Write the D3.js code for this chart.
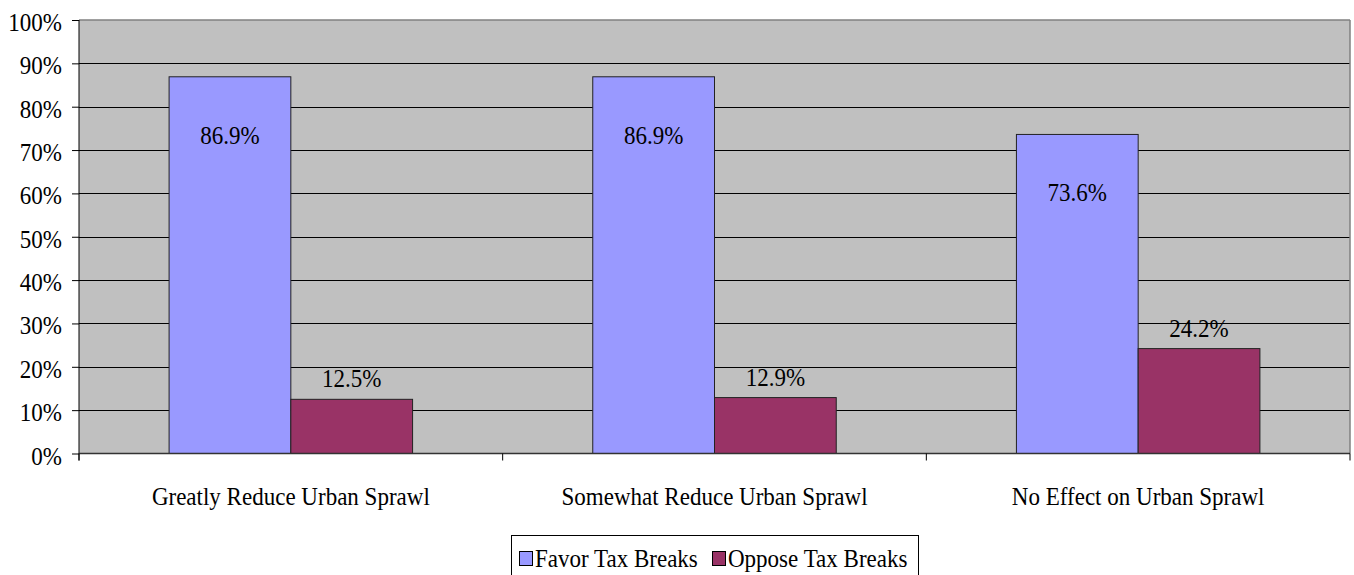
<!DOCTYPE html>
<html><head><meta charset="utf-8">
<script src="https://cdn.jsdelivr.net/npm/d3@7"></script>
</head><body style="margin:0"><svg id="c" width="1354" height="575"></svg>
<script>
const categories = ["Greatly Reduce Urban Sprawl","Somewhat Reduce Urban Sprawl","No Effect on Urban Sprawl"];
const seriesNames = ["Favor Tax Breaks","Oppose Tax Breaks"];
const favor = [86.9, 86.9, 73.6];
const oppose = [12.5, 12.9, 24.2];
const yTicks = [0,10,20,30,40,50,60,70,80,90,100];
const colors = ["#9999ff","#993366"];

const FS = 26, SX = 0.885;
// place a text at (px,py) with horizontal condensing
function place(sel, fx, fy){
  return sel.style("font-family",'"Liberation Serif"').attr("font-size",FS).attr("fill","#000")
    .attr("transform",(d,i)=>`translate(${fx(d,i)},${fy(d,i)}) scale(${SX},1)`);
}

const svg = d3.select("#c");
const L=79, R=1350, T=20, B=453.5;
const x = d3.scaleBand().domain(categories).range([L,R]);
const y = d3.scaleLinear().domain([0,100]).range([B,T]);
const inner = d3.scaleBand().domain(seriesNames).range([0, x.bandwidth()]).paddingOuter(0.74).paddingInner(0);

svg.append("rect").attr("x",L).attr("y",T).attr("width",R-L).attr("height",B-T).attr("fill","#c0c0c0");
svg.selectAll(".g").data(yTicks.filter(d=>d>0&&d<100)).enter().append("line")
  .attr("x1",L).attr("x2",R).attr("y1",d=>Math.round(y(d))+0.5).attr("y2",d=>Math.round(y(d))+0.5).attr("stroke","#000").attr("stroke-width",1);
svg.append("line").attr("x1",L).attr("x2",R).attr("y1",T).attr("y2",T).attr("stroke","#808080").attr("stroke-width",1.5);
svg.append("line").attr("x1",R).attr("x2",R).attr("y1",T).attr("y2",B).attr("stroke","#808080").attr("stroke-width",1.5);

const data = [favor, oppose];
data.forEach((vals,si)=>{
  svg.selectAll(".b"+si).data(vals).enter().append("rect")
    .attr("x",(d,i)=>x(categories[i])+inner(seriesNames[si]))
    .attr("y",d=>y(d)).attr("width",inner.bandwidth()).attr("height",d=>B-y(d))
    .attr("fill",colors[si]).attr("stroke","#222").attr("stroke-width",1);
  place(svg.selectAll(".l"+si).data(vals).enter().append("text"),
      (d,i)=>x(categories[i])+inner(seriesNames[si])+inner.bandwidth()/2,
      d=> si===0 ? y(d)+67 : y(d)-12)
    .attr("text-anchor","middle")
    .text(d=>d.toFixed(1)+"%");
});

// y axis ticks via d3 axis (lines), labels placed as condensed text
const yAxis = svg.append("g").attr("transform",`translate(${L},0)`)
  .call(d3.axisLeft(y).tickValues(yTicks).tickSize(7).tickFormat(""));
yAxis.select(".domain").remove();
yAxis.selectAll("line").attr("stroke","#000");
place(svg.selectAll(".yl").data(yTicks).enter().append("text"), d=>L-17, d=>y(d)+11)
  .attr("text-anchor","end").text(d=>d+"%");

svg.append("line").attr("x1",L).attr("x2",L).attr("y1",T).attr("y2",B+7).attr("stroke","#000");
svg.append("line").attr("x1",L).attr("x2",R).attr("y1",B).attr("y2",B).attr("stroke","#333").attr("stroke-width",1.5);
const bounds = categories.map(c=>x(c)).concat([R]);
svg.selectAll(".xt").data(bounds).enter().append("line")
  .attr("x1",d=>d).attr("x2",d=>d).attr("y1",B).attr("y2",B+7).attr("stroke","#000");
place(svg.selectAll(".xl").data(categories).enter().append("text"), d=>x(d)+x.bandwidth()/2, d=>505)
  .attr("text-anchor","middle").text(d=>d);

const lg = svg.append("g");
lg.append("rect").attr("x",511.5).attr("y",535.5).attr("width",407).attr("height",42).attr("fill","#fff").attr("stroke","#000");
const lx=[519,712];
lg.selectAll(".sw").data(seriesNames).enter().append("rect")
  .attr("x",(d,i)=>lx[i]+0.5).attr("y",551.5).attr("width",13).attr("height",14)
  .attr("fill",(d,i)=>colors[i]).attr("stroke","#000");
place(lg.selectAll(".lt").data(seriesNames).enter().append("text"), (d,i)=>lx[i]+16, d=>567).text(d=>d);
</script></body></html>
